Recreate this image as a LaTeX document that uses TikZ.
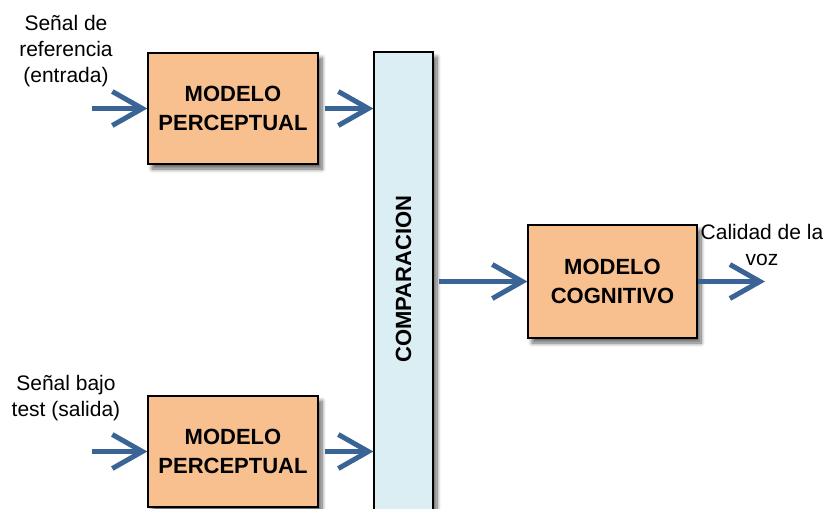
\documentclass[tikz,border=0pt]{standalone}
\usepackage{fontspec}
\setmainfont{Liberation Sans}
\usetikzlibrary{arrows.meta,shadows.blur}
\definecolor{boxorange}{HTML}{F9C08F}
\definecolor{barblue}{HTML}{DAEEF3}
\definecolor{flowblue}{HTML}{3B6496}

\begin{document}
\begin{tikzpicture}[x=1pt,y=-1pt,
  softshadow/.style={blur shadow={shadow xshift=4pt, shadow yshift=-5pt,
      shadow blur radius=4pt, shadow blur steps=10, shadow opacity=60}},
  block/.style={draw=black, line width=1.2pt, fill=boxorange, softshadow,
      align=center, inner sep=0pt,
      font=\fontsize{22}{29}\selectfont\bfseries},
  barbox/.style={draw=black, line width=1.2pt, fill=barblue, softshadow, inner sep=0pt},
  barlabel/.style={font=\fontsize{22}{29}\selectfont\bfseries, rotate=90, inner sep=0pt},
  caption/.style={align=center, inner sep=0pt, font=\fontsize{21}{26}\selectfont},
  flow/.style={draw=flowblue, line width=5pt,
      -{Straight Barb[length=30pt, width=34pt, line cap=butt]}}
]
\useasboundingbox (0,0) rectangle (823,509);
\clip (0,0) rectangle (823,509);

% processing blocks
\node[block, minimum width=170pt, minimum height=111pt] (pm1) at (233,108.5) {MODELO\\PERCEPTUAL};
\node[block, minimum width=170pt, minimum height=111pt] (pm2) at (233,451.5) {MODELO\\PERCEPTUAL};
\node[block, minimum width=169pt, minimum height=113pt] (cog) at (612.5,281.5) {MODELO\\COGNITIVO};

% comparison bar, running past the lower edge
\node[barbox, minimum width=59pt, minimum height=478pt] (bar) at (403.5,291) {};
\node[barlabel] (cmp) at (403.5,279) {COMPARACION};

% captions
\node[caption] (lblref) at (66,51) {Señal de\\referencia\\(entrada)};
\node[caption] (lbltest) at (66,398) {Señal bajo\\test (salida)};
\node[caption] (lblout) at (762,245) {Calidad de la\\voz};

% free ends of the signal arrows
\coordinate (in1) at (92,108.5);
\coordinate (in2) at (92,451.5);
\coordinate (out) at (765,281.5);

% signal flow
\draw[flow] (in1) -- (pm1.west);
\draw[flow] (in2) -- (pm2.west);
\draw[flow, shorten <=6pt] (pm1.east) -- (pm1.east -| bar.west);
\draw[flow, shorten <=6pt] (pm2.east) -- (pm2.east -| bar.west);
\draw[flow, shorten <=5pt] (bar.east |- cog.west) -- (cog.west);
\draw[flow] (cog.east) -- (out);
\end{tikzpicture}
\end{document}
